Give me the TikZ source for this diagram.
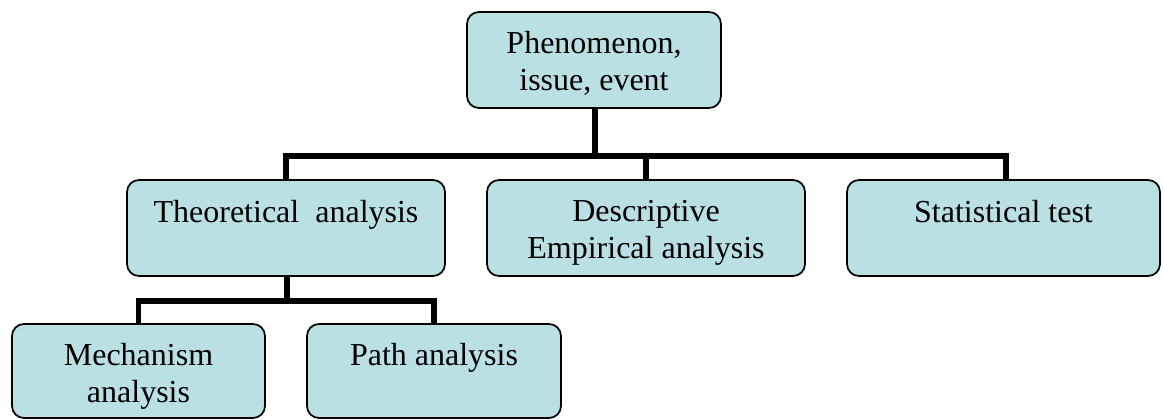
\documentclass[tikz,border=0pt]{standalone}
\usepackage{fontspec}
\setmainfont{Liberation Serif}
\definecolor{boxfill}{RGB}{186,224,228}
\tikzset{
  box/.style={draw=black, line width=1.3pt, fill=boxfill, rounded corners=9pt,
              inner sep=0pt},
  label/.style={anchor=north, inner sep=0pt, align=center,
                font=\fontsize{24}{27.75}\selectfont},
  conn/.style={draw=black, line width=4.1pt}
}
\begin{document}
\begin{tikzpicture}[x=0.75pt, y=-0.75pt]
\useasboundingbox (0,0) rectangle (1163,419);

% boxes
\node[box, minimum width=190.5pt, minimum height=72pt] (top) at (594,60) {};
\node[box, minimum width=238.5pt, minimum height=72pt] (theo) at (286,228) {};
\node[box, minimum width=238.5pt, minimum height=72pt] (desc) at (646,228) {};
\node[box, minimum width=234.75pt, minimum height=72pt] (stat) at (1003.5,228) {};
\node[box, minimum width=189.75pt, minimum height=70.5pt] (mech) at (138.5,371) {};
\node[box, minimum width=190.5pt, minimum height=70.5pt] (path) at (434,371) {};

% texts
\node[label] (topt)  at ([yshift=-15pt]top.north)  {Phenomenon,\\issue, event};
\node[label] (theot) at ([yshift=-15.5pt]theo.north) {Theoretical\ \ analysis};
\node[label] (desct) at ([yshift=-15.5pt]desc.north) {Descriptive\\Empirical analysis};
\node[label] (statt) at ([yshift=-15.5pt]stat.north) {Statistical test};
\node[label] (mecht) at ([yshift=-15pt]mech.north) {Mechanism\\analysis};
\node[label] (patht) at ([yshift=-15pt]path.north) {Path analysis};

% first level connectors
\coordinate (j1) at (595,156);
\coordinate (s1) at (1006,180);
\draw[conn] (top.south -| j1) -- (j1);
\draw[conn] (theo.north) |- (j1) -| (s1);
\draw[conn] (desc.north) -- (desc.north |- j1);

% second level connectors
\coordinate (j2) at (287,301);
\draw[conn] (theo.south -| j2) -- (j2);
\draw[conn] (mech.north) |- (j2) -| (path.north);
\end{tikzpicture}
\end{document}
